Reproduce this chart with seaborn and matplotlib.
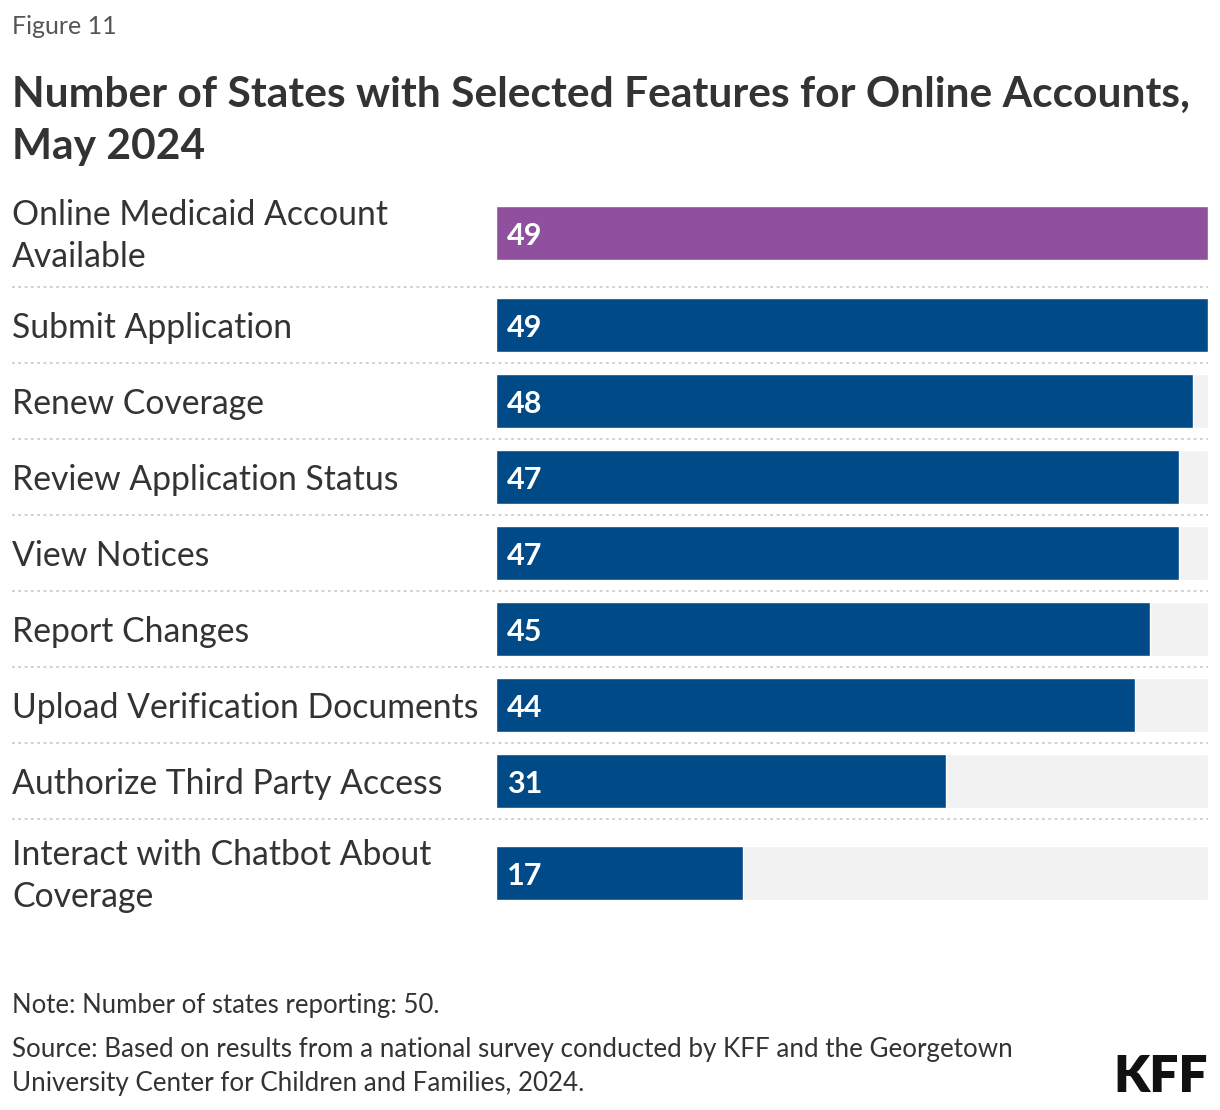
import numpy as np
import pandas as pd
import matplotlib
matplotlib.use('Agg')
import matplotlib.pyplot as plt
import matplotlib.transforms as mtransforms
import seaborn as sns

# Data
features = ['Online Medicaid Account\nAvailable', 'Submit Application', 'Renew Coverage',
            'Review Application Status', 'View Notices', 'Report Changes',
            'Upload Verification Documents', 'Authorize Third Party Access',
            'Interact with Chatbot About\nCoverage']
states = [49, 49, 48, 47, 47, 45, 44, 31, 17]
groups = ['account', 'feature', 'feature', 'feature', 'feature', 'feature', 'feature', 'feature', 'feature']

title = 'Number of States with Selected Features for Online Accounts,\nMay 2024'
note = 'Note: Number of states reporting: 50.'
source = ('Source: Based on results from a national survey conducted by KFF and the Georgetown\n'
          'University Center for Children and Families, 2024.')

purple = '#8f509d'
blue = '#004a87'
track = '#f2f2f2'
text_col = '#333333'

sns.set_style('white')
plt.rcParams['font.family'] = ['Lato', 'DejaVu Sans']

# Row layout: two-line labels get taller rows
row_h = [108 if '\n' in f else 76 for f in features]
tops = np.concatenate([[0], np.cumsum(row_h)[:-1]])
centers = tops + np.array(row_h) / 2
total_h = sum(row_h)

df = pd.DataFrame({'feature': features, 'states': states, 'group': groups, 'pos': centers})
df['track'] = max(states)

W, H = 1220, 1110
fig = plt.figure(figsize=(W / 100, H / 100), dpi=100)
ax_left, ax_right = 496, 1208
ax_top = 179
ax = fig.add_axes([ax_left / W, 1 - (ax_top + total_h) / H, (ax_right - ax_left) / W, total_h / H])

bar_w = 54 / 76
sns.barplot(data=df, x='track', y='pos', orient='h', native_scale=True, width=bar_w,
            color=track, saturation=1, ax=ax, zorder=1)
sns.barplot(data=df, x='states', y='pos', hue='group', orient='h', native_scale=True,
            width=bar_w, palette={'account': purple, 'feature': blue}, dodge=False,
            saturation=1, legend=False, ax=ax, zorder=2)

ax.set_xlim(0, max(states))
ax.set_ylim(total_h, 0)
ax.axis('off')

# Labels, values, separators
lab_tr = mtransforms.blended_transform_factory(fig.transFigure, ax.transData)
for f, v, c in zip(features, states, centers):
    ax.text(12 / W, c + 3, f, transform=lab_tr, ha='left', va='center', fontsize=24.3,
            color=text_col, linespacing=1.42)
    ax.annotate(str(v), xy=(0, c), xytext=(8, -2), textcoords='offset points',
                ha='left', va='center', fontsize=22, fontweight='bold', color='white', zorder=3)

sep_xmin = (12 - ax_left) / (ax_right - ax_left)
for t in tops[1:]:
    ax.axhline(t, xmin=sep_xmin, xmax=1, color='#cccccc', lw=1.3, ls=(0, (1.5, 2)),
               clip_on=False, zorder=0)

# Header and footer text
fig.text(12 / W, 1 - 27 / H, 'Figure 11', ha='left', va='center', fontsize=18, color='#555555')
fig.text(12 / W, 1 - 121 / H, title, ha='left', va='center', fontsize=30.6, fontweight='bold',
         color=text_col, linespacing=1.47)
fig.text(12 / W, 1 - 1005 / H, note, ha='left', va='center', fontsize=18.5, color=text_col)
fig.text(12 / W, 1 - 1066 / H, source, ha='left', va='center', fontsize=18.7, color=text_col,
         linespacing=1.45)
fig.text(1208 / W, 1 - 1077 / H, 'KFF', ha='right', va='center', fontsize=37, fontweight='heavy',
         color='#111111')

fig.savefig('out.png', dpi=100)
